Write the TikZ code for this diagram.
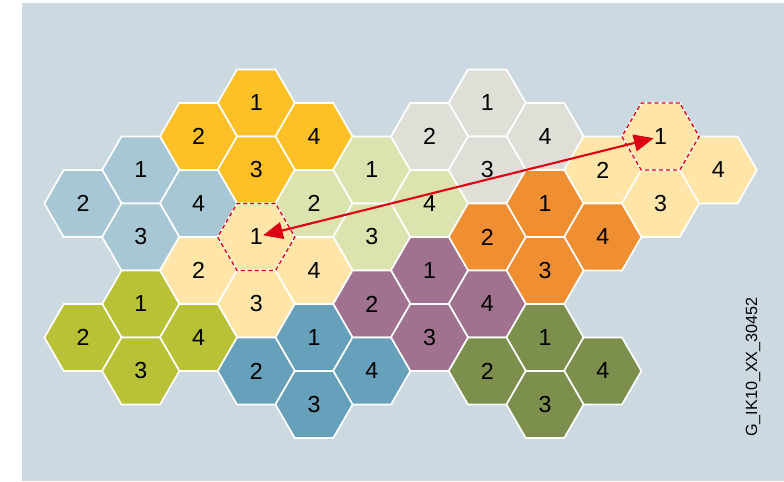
\documentclass[tikz,border=0pt]{standalone}
\usepackage{fontspec}
\setmainfont{Liberation Sans}
\usetikzlibrary{shapes.geometric, arrows.meta}
\definecolor{bgblue}{HTML}{CDD9E1}
\definecolor{hexgold}{HTML}{FDC127}
\definecolor{hexsky}{HTML}{A7C7D5}
\definecolor{hexlime}{HTML}{DDE3AF}
\definecolor{hexgray}{HTML}{DFDFD8}
\definecolor{hexsand}{HTML}{FFE6A8}
\definecolor{hexorange}{HTML}{F08E32}
\definecolor{hexplum}{HTML}{A0728F}
\definecolor{hexolive}{HTML}{B9C137}
\definecolor{hexsteel}{HTML}{66A0BA}
\definecolor{hexmoss}{HTML}{7D8F4D}
\definecolor{redline}{HTML}{DC0014}
\tikzstyle{hexcell} = [regular polygon, regular polygon sides=6, minimum size=1.93cm, inner sep=0pt, outer sep=0pt, draw=white, line width=1.2pt, font=\fontsize{16.5}{19}\selectfont]
\tikzstyle{hexmark} = [draw=redline, line width=0.9pt, dash pattern=on 3pt off 2pt]
\tikzstyle{arrow} = [draw=redline, line width=1.5pt, {Triangle[length=14pt,width=12pt]}-{Triangle[length=14pt,width=12pt]}, shorten <=5pt, shorten >=5pt]
\tikzstyle{codelabel} = [inner sep=0pt, font=\fontsize{11.5}{13}\selectfont]
\begin{document}
\begin{tikzpicture}[x=0.025cm, y=-0.025cm]
  \useasboundingbox (0,0) rectangle (784,481);
  \fill[bgblue] (22,3) rectangle (784,481);
  % clusters of four cells: name / column / row of cell 1 / colour
  \foreach \grp/\c/\k/\col in {gold/3/0/hexgold, sky/1/2/hexsky, lime/5/2/hexlime, gray/7/0/hexgray, sand/3/4/hexsand, sandR/10/1/hexsand, orange/8/3/hexorange, plum/6/5/hexplum, olive/1/6/hexolive, steel/4/7/hexsteel, moss/8/7/hexmoss}{
    \node (\grp-1) [hexcell, fill=\col] at ({83+57.75*\c},{103+33.5*\k}) {1};
    \node (\grp-2) [hexcell, fill=\col] at ({83+57.75*(\c-1)},{103+33.5*(\k+1)}) {2};
    \node (\grp-4) [hexcell, fill=\col] at ({83+57.75*(\c+1)},{103+33.5*(\k+1)}) {4};
    \node (\grp-3) [hexcell, fill=\col] at ({83+57.75*\c},{103+33.5*(\k+2)}) {3};
  }
  \foreach \cell in {sand-1, sandR-1}
    \draw [hexmark] (\cell.corner 1) -- (\cell.corner 2) -- (\cell.corner 3) -- (\cell.corner 4) -- (\cell.corner 5) -- (\cell.corner 6) -- cycle;

  \draw [arrow] (sand-1.center) -- (sandR-1.center);

  \node (code) [codelabel, rotate=90] at (753,367) {G\_IK10\_XX\_30452};
\end{tikzpicture}
\end{document}
